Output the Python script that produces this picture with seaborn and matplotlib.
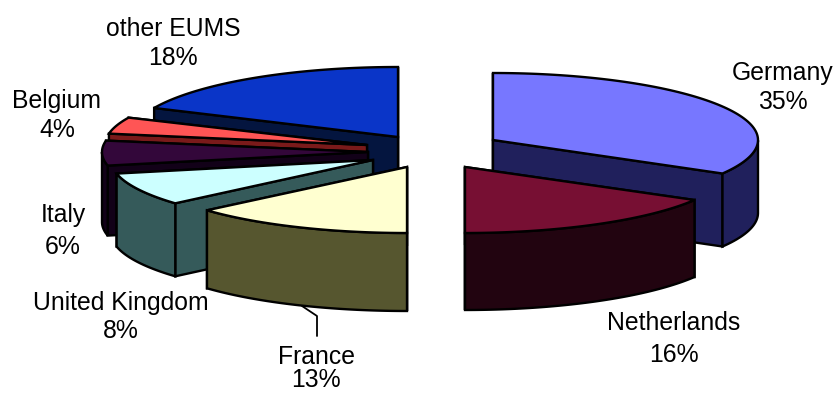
import numpy as np
import matplotlib
matplotlib.use("Agg")
import matplotlib.pyplot as plt
import seaborn as sns

countries = ["Germany", "Netherlands", "France", "United Kingdom", "Italy", "Belgium", "other EUMS"]
shares = [35, 16, 13, 8, 6, 4, 18]

top_colors = ["#7777ff", "#770f33", "#ffffd0", "#ccffff", "#33073a", "#ff5555", "#0a35c8"]
side_colors = ["#20205c", "#220410", "#56562f", "#355a5a", "#120118", "#7a1a1a", "#04153f"]

# Pixel layout of each exploded slice: apex x, apex y, radii and wall height.
slice_layout = {
    "Germany": (493, 140, 265, 67, 73),
    "Netherlands": (465, 167, 265, 66, 77),
    "France": (407, 167, 265, 66, 78),
    "United Kingdom": (373, 160, 262, 66, 73),
    "Italy": (368, 152, 266, 66, 70),
    "Belgium": (367, 145, 262, 66, 70),
    "other EUMS": (398, 137, 268, 70, 70),
}
# Label x, then the baselines of the name and of the percentage.
label_layout = {
    "Germany": (783, 80, 109),
    "Netherlands": (674, 330, 362),
    "France": (316, 364, 387),
    "United Kingdom": (121, 310, 338),
    "Italy": (63, 222, 254),
    "Belgium": (57, 108, 137),
    "other EUMS": (173, 36, 65),
}
paint_order = ["other EUMS", "Belgium", "Italy", "United Kingdom", "France", "Germany", "Netherlands"]

sns.set_theme(style="white")
plt.rcParams["font.family"] = ["Liberation Sans", "DejaVu Sans"]

fig = plt.figure(figsize=(8.35, 3.94), dpi=100, facecolor="white")
ax = fig.add_axes([0, 0, 1, 1])
ax.set_xlim(0, 835)
ax.set_ylim(394, 0)
ax.axis("off")

# Cumulative pie angles, clockwise from twelve o'clock.
ends = np.cumsum(shares) * 3.6
starts = ends - np.array(shares) * 3.6


def view_angle(deg):
    # The oblique camera compresses the right-hand side of the pie a little.
    return np.radians(np.interp(deg, [0, 126, 183.6, 230.4, 360], [0, 120, 180, 229, 360]))


def rim(deg, cx, cy, rx, ry):
    t = view_angle(deg)
    return cx + rx * np.sin(t), cy - ry * np.cos(t)


def face(xs, ys, color):
    ax.fill(xs, ys, facecolor=color, edgecolor="black", linewidth=1.7, joinstyle="miter")


for name in paint_order:
    i = countries.index(name)
    cx, cy, rx, ry, depth = slice_layout[name]
    a0, a1 = starts[i], ends[i]
    side = side_colors[i]

    # Flat radial walls, far edge first.
    for a in sorted([a0, a1], key=lambda v: rim(v, cx, cy, rx, ry)[1]):
        x, y = rim(a, cx, cy, rx, ry)
        face([cx, x, x, cx], [cy, y, y + depth, cy + depth], side)

    # Outer curved wall, only where it faces the viewer.
    theta = np.linspace(a0, a1, 90)
    tx, ty = rim(theta, cx, cy, rx, ry)
    front = np.cos(view_angle(theta)) < 0
    if front.any():
        fx, fy = tx[front], ty[front]
        face(np.r_[fx, fx[::-1]], np.r_[fy, fy[::-1] + depth], side)

    # Top surface.
    face(np.r_[cx, tx], np.r_[cy, ty], top_colors[i])

# Leader line for the France label.
ax.plot([302, 317, 317], [306, 316, 336], color="black", lw=1.3)

for name, share in zip(countries, shares):
    x, y_name, y_share = label_layout[name]
    ax.text(x, y_name, name, ha="center", va="baseline", fontsize=17.8, color="black")
    ax.text(x, y_share, f"{share}%", ha="center", va="baseline", fontsize=17.8, color="black")

fig.savefig("out.png", dpi=100)
